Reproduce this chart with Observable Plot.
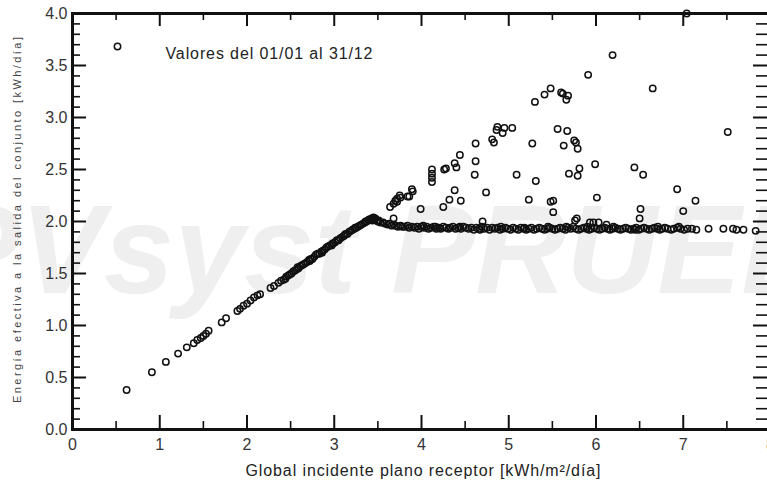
<!DOCTYPE html>
<html><head><meta charset="utf-8">
<script src="https://cdn.jsdelivr.net/npm/d3@7"></script>
<script src="https://cdn.jsdelivr.net/npm/@observablehq/plot@0.6"></script>
<style>
html,body{margin:0;padding:0;background:#fff;overflow:hidden;}
#chart svg{max-width:none !important;display:block;}
</style></head><body><div id="chart"></div>
<script>
// ---- texts ----
const xTitle = "Global incidente plano receptor [kWh/m²/día]";
const yTitle = "Energía efectiva a la salida del conjunto [kWh/día]";
const legendLabel = "Valores del 01/01 al 31/12";
const watermark = "PVsyst PRUEBA";

// ---- ticks ----
const xTicks = [0, 1, 2, 3, 4, 5, 6, 7, 8];
const xMinor = [0.5, 1.5, 2.5, 3.5, 4.5, 5.5, 6.5, 7.5];
const yTicks = [0, 0.5, 1.0, 1.5, 2.0, 2.5, 3.0, 3.5, 4.0];
const yMinor = [0.1,0.2,0.3,0.4,0.6,0.7,0.8,0.9,1.1,1.2,1.3,1.4,1.6,1.7,1.8,1.9,
                2.1,2.2,2.3,2.4,2.6,2.7,2.8,2.9,3.1,3.2,3.3,3.4,3.6,3.7,3.8,3.9];

// ---- data: rising part (irradiation, energy) ----
const riseIrr = [0.62,0.91,1.07,1.21,1.31,1.39,1.43,1.47,1.50,1.53,1.56,1.71,1.76,1.89,1.92,1.96,2.00,2.04,2.08,2.12,2.15,
  2.27,2.31,2.36,2.39,2.42,2.44,2.45,2.47,2.49,2.51,2.53,2.55,2.57,2.58,2.59,2.61,2.63,2.65,2.67,2.69,2.71,2.72,2.73,2.75,
  2.77,2.79,2.81,2.83,2.85,2.86,2.87,2.89,2.91,2.93,2.95,2.97,2.98,2.99,3.01,3.03,3.05,3.07,3.09,3.11,3.12,3.13,3.15,3.17,
  3.19,3.21,3.23,3.24,3.25,3.27,3.29,3.31,3.33,3.35,3.36,3.37,3.39,3.40,3.41,3.43,3.44,3.45,3.46,3.47,3.49,3.50,3.51,3.53,3.56];
const riseEn = [0.38,0.55,0.65,0.73,0.79,0.83,0.86,0.88,0.90,0.92,0.95,1.03,1.07,1.14,1.16,1.19,1.21,1.24,1.27,1.29,1.30,
  1.36,1.38,1.41,1.43,1.44,1.45,1.47,1.48,1.49,1.50,1.52,1.53,1.54,1.56,1.55,1.57,1.58,1.59,1.60,1.61,1.63,1.62,1.64,1.64,
  1.66,1.68,1.69,1.69,1.71,1.70,1.72,1.73,1.75,1.76,1.77,1.77,1.79,1.79,1.80,1.82,1.82,1.84,1.85,1.86,1.87,1.88,1.88,1.90,
  1.91,1.92,1.93,1.94,1.94,1.95,1.96,1.97,1.98,1.99,2.00,2.00,2.01,2.02,2.02,2.03,2.01,2.04,2.02,2.03,2.01,2.00,2.01,1.99,1.99];

// ---- data: plateau (inverter limited) ----
const platIrr = [3.58,3.61,3.63,3.66,3.68,3.71,3.73,3.76,3.78,3.81,3.84,3.86,3.89,3.92,3.95,3.97,4.00,4.02,4.03,4.06,4.08,4.11,
  4.14,4.16,4.17,4.20,4.22,4.25,4.28,4.31,4.33,4.36,4.39,4.42,4.44,4.45,4.48,4.51,4.54,4.57,4.60,4.63,4.66,4.67,4.69,4.72,4.75,
  4.78,4.81,4.84,4.87,4.90,4.91,4.93,4.96,4.99,5.02,5.05,5.08,5.11,5.14,5.17,5.18,5.20,5.23,5.26,5.29,5.32,5.35,5.38,5.41,5.44,
  5.45,5.47,5.50,5.53,5.56,5.59,5.62,5.65,5.66,5.68,5.71,5.74,5.77,5.80,5.83,5.86,5.89,5.90,5.92,5.95,5.98,6.01,6.04,6.07,6.10,
  6.13,6.16,6.19,6.20,6.22,6.25,6.28,6.31,6.34,6.37,6.40,6.43,6.45,6.46,6.49,6.52,6.55,6.58,6.61,6.64,6.67,6.70,6.71,6.73,6.76,
  6.79,6.82,6.86,6.89,6.93,6.95,6.97,7.01,7.05,7.10,7.15,7.29,7.46,7.57,7.61,7.69,7.83];
const platEn = [1.98,1.97,1.98,1.96,1.97,1.96,1.95,1.96,1.95,1.95,1.96,1.94,1.95,1.94,1.95,1.93,1.95,1.96,1.94,1.95,1.93,1.94,
  1.95,1.95,1.93,1.94,1.93,1.95,1.94,1.93,1.94,1.95,1.93,1.94,1.95,1.93,1.95,1.94,1.93,1.94,1.92,1.94,1.93,1.92,1.95,1.93,1.94,
  1.92,1.94,1.93,1.94,1.92,1.95,1.93,1.94,1.93,1.92,1.94,1.93,1.92,1.94,1.93,1.94,1.92,1.93,1.94,1.92,1.93,1.94,1.93,1.92,1.93,
  1.95,1.94,1.93,1.92,1.93,1.94,1.93,1.92,1.95,1.94,1.93,1.95,1.93,1.92,1.93,1.94,1.93,1.95,1.92,1.93,1.94,1.93,1.92,1.93,1.94,
  1.93,1.92,1.93,1.95,1.94,1.93,1.92,1.93,1.94,1.93,1.92,1.93,1.92,1.94,1.92,1.93,1.94,1.93,1.92,1.93,1.94,1.93,1.95,1.92,1.93,
  1.94,1.93,1.92,1.93,1.94,1.95,1.93,1.92,1.93,1.93,1.92,1.93,1.93,1.93,1.92,1.92,1.91];

// ---- data: days above the plateau ----
const highIrr = [7.04,6.19,5.91,6.65,5.48,5.41,5.30,5.60,5.62,5.68,5.66,7.51,4.87,4.95,5.04,4.86,4.93,4.81,4.83,5.56,5.67,
  4.62,5.27,5.75,5.77,5.63,5.79,4.44,4.38,4.28,4.26,4.40,4.12,4.12,4.12,4.12,4.62,4.61,5.09,5.31,5.99,6.44,6.54,5.81,5.69,5.79,
  3.89,3.90,3.86,3.84,3.75,3.76,3.72,3.70,3.72,3.68,3.64,3.99,4.38,4.32,4.45,4.25,4.74,5.23,5.48,5.51,5.51,6.01,6.51,6.50,
  5.78,5.76,6.93,7.14,7.00,3.68,4.70,5.93,5.97,6.03,6.12];
const highEn = [4.00,3.60,3.41,3.28,3.28,3.22,3.15,3.24,3.23,3.21,3.17,2.86,2.91,2.90,2.90,2.88,2.85,2.79,2.76,2.89,2.87,
  2.75,2.75,2.78,2.76,2.73,2.70,2.64,2.56,2.51,2.50,2.52,2.50,2.46,2.42,2.38,2.58,2.45,2.45,2.39,2.55,2.52,2.45,2.51,2.46,2.44,
  2.31,2.29,2.24,2.24,2.25,2.23,2.22,2.20,2.19,2.17,2.14,2.12,2.30,2.21,2.20,2.14,2.28,2.21,2.19,2.20,2.09,2.23,2.12,2.03,
  2.03,2.01,2.31,2.20,2.10,2.03,2.00,1.99,1.99,1.99,1.97];

const days = [];
riseIrr.forEach((g, i) => days.push({g, e: riseEn[i]}));
platIrr.forEach((g, i) => days.push({g, e: platEn[i]}));
highIrr.forEach((g, i) => days.push({g, e: highEn[i]}));

const W = 790, H = 483, mL = 72, mR = 20, mT = 13, mB = 54;
const fw = W - mL - mR, fh = H - mT - mB;
const ink = "#111";

const chart = Plot.plot({
  width: W, height: H,
  marginLeft: mL, marginRight: mR, marginTop: mT, marginBottom: mB,
  style: {fontFamily: "'Liberation Sans', Arial, sans-serif", fontSize: "16px", background: "#fff", overflow: "visible"},
  x: {domain: [0, 8]},
  y: {domain: [0, 4]},
  marks: [
    Plot.dot(days, {x: "g", y: "e", r: 3.2, stroke: ink, strokeWidth: 1.5, fill: "none"}),
    // inward ticks on all four sides
    Plot.tickX(xTicks, {x: d => d, insetTop: fh - 14, stroke: ink, strokeWidth: 2}),
    Plot.tickX(xMinor, {x: d => d, insetTop: fh - 8, stroke: ink, strokeWidth: 1.6}),
    Plot.tickX(xTicks, {x: d => d, insetBottom: fh - 13, stroke: ink, strokeWidth: 2}),
    Plot.tickX(xMinor, {x: d => d, insetBottom: fh - 7, stroke: ink, strokeWidth: 1.6}),
    Plot.tickY(yTicks, {y: d => d, insetRight: fw - 14, stroke: ink, strokeWidth: 2}),
    Plot.tickY(yMinor, {y: d => d, insetRight: fw - 8, stroke: ink, strokeWidth: 1.6}),
    Plot.tickY(yTicks, {y: d => d, insetLeft: fw - 17, stroke: ink, strokeWidth: 2}),
    Plot.tickY(yMinor, {y: d => d, insetLeft: fw - 14, stroke: ink, strokeWidth: 1.6}),
    Plot.frame({stroke: ink, strokeWidth: 3}),
    Plot.axisX({anchor: "bottom", ticks: xTicks, tickSize: 0, tickPadding: 9, tickFormat: d => String(d), label: null, fill: "#333", fontSize: 16}),
    Plot.axisY({anchor: "left", ticks: yTicks, tickSize: 0, tickPadding: 5, tickFormat: d3.format(".1f"), label: null, fill: "#333", fontSize: 16}),
    // legend inside the frame
    Plot.dot([legendLabel], {frameAnchor: "top-left", dx: 45, dy: 33, r: 3.2, stroke: ink, strokeWidth: 1.5, fill: "none"}),
    Plot.text([legendLabel], {text: d => d, frameAnchor: "top-left", dx: 93, dy: 34, textAnchor: "start", fontSize: 16, fill: "#222"})
  ]
});

document.getElementById("chart").appendChild(chart);
const svg = d3.select(chart);

// legend text spacing
svg.selectAll("text").filter(function() { return this.textContent === legendLabel; })
  .attr("textLength", 207).attr("lengthAdjust", "spacing");

// watermark behind everything
svg.insert("text", "g")
  .attr("x", -64).attr("y", 293)
  .attr("text-anchor", "start")
  .attr("font-size", 126).attr("font-weight", "bold").attr("font-style", "italic")
  .attr("fill", "#efefef")
  .text(watermark);

// axis titles
svg.append("text")
  .attr("x", 423).attr("y", 476)
  .attr("text-anchor", "middle").attr("font-size", 16).attr("fill", "#222")
  .attr("textLength", 355).attr("lengthAdjust", "spacing")
  .text(xTitle);

svg.append("text")
  .attr("transform", "translate(21,220) rotate(-90)")
  .attr("text-anchor", "middle").attr("font-size", 11).attr("fill", "#444")
  .attr("textLength", 366).attr("lengthAdjust", "spacing")
  .text(yTitle);
</script>
</body></html>
